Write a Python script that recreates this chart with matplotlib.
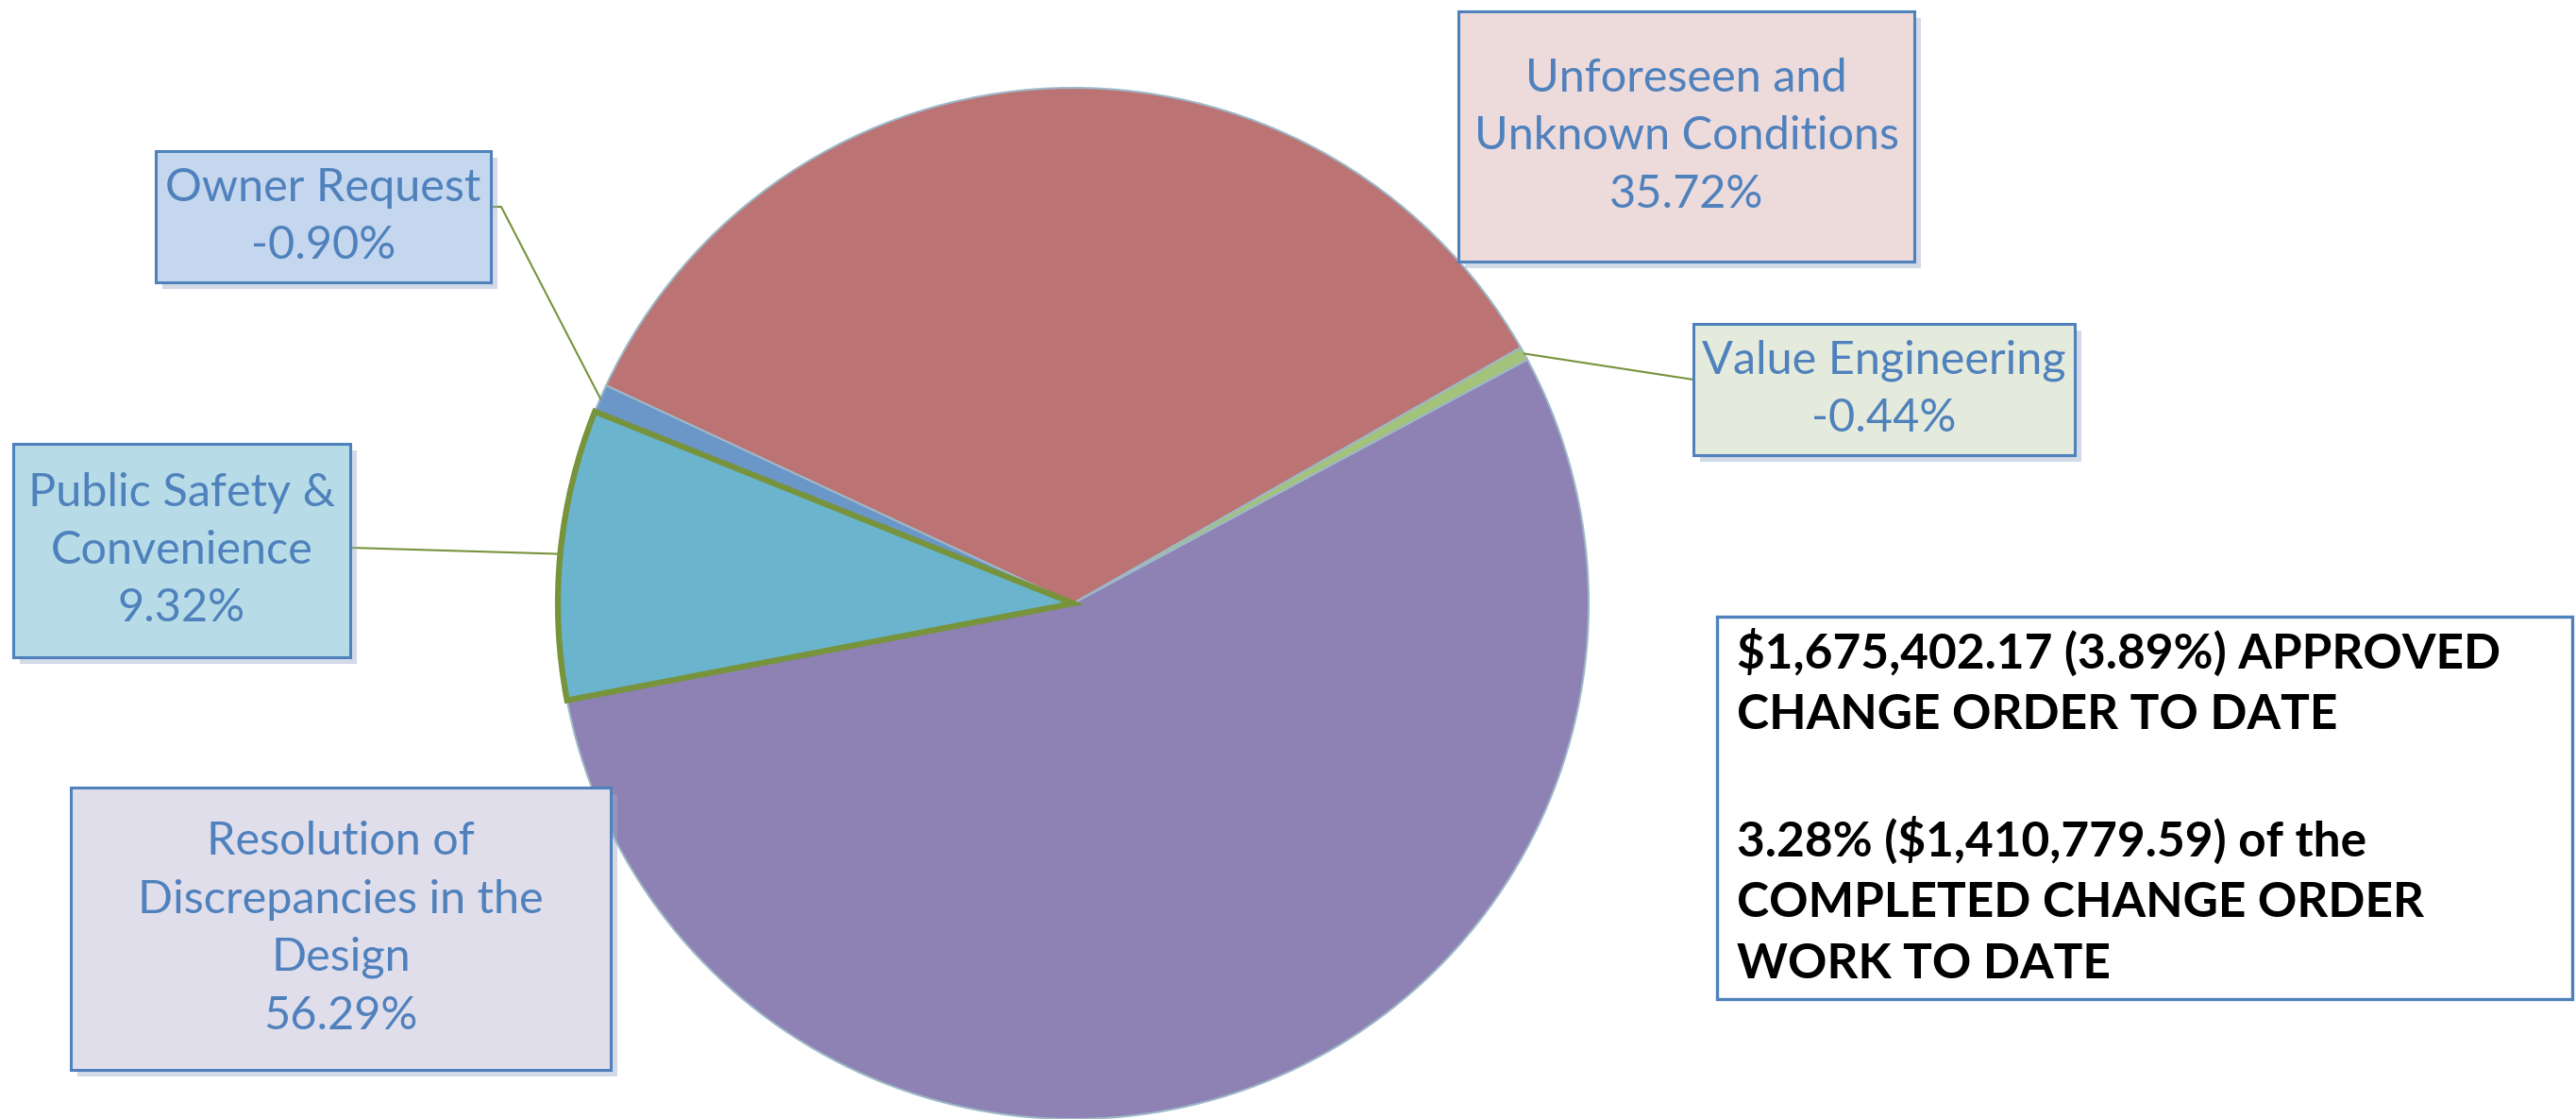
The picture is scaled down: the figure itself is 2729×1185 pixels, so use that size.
import numpy as np
import matplotlib
matplotlib.use("Agg")
import matplotlib.pyplot as plt
from matplotlib.patches import Rectangle
import matplotlib.patheffects as pe

# data
categorias = ["Unforeseen and\nUnknown Conditions", "Value Engineering",
              "Resolution of\nDiscrepancies in the\nDesign", "Public Safety &\nConvenience",
              "Owner Request"]
percentuais = [35.72, -0.44, 56.29, 9.32, -0.90]
cores = ["#BB7373", "#A3C27A", "#8E81B3", "#6AB4CE", "#6B96C8"]
cores_caixa = ["#EDDADB", "#E5EBDC", "#E1DEEB", "#B7DCE7", "#C5D7EE"]
nota = ("$1,675,402.17 (3.89%) APPROVED\nCHANGE ORDER TO DATE\n\n"
        "3.28% ($1,410,779.59) of the\nCOMPLETED CHANGE ORDER\nWORK TO DATE")

W, H = 2729, 1185
azul = "#4F81BD"
verde = "#77933C"

fig = plt.figure(figsize=(W / 100, H / 100), dpi=100)
ax = fig.add_axes([0, 0, 1, 1])

cx, cy, r = 1137, H - 639, 546
valores = [abs(p) for p in percentuais]
wedges, _ = ax.pie(valores, colors=cores, startangle=155, counterclock=False,
                   center=(cx, cy), radius=r,
                   wedgeprops=dict(edgecolor="#9DB8C8", linewidth=1.5))
wedges[3].set_edgecolor(verde)
wedges[3].set_linewidth(4.5)
wedges[3].set_zorder(3)

ax.set_xlim(0, W)
ax.set_ylim(0, H)
ax.set_aspect("equal")
ax.axis("off")

# caixas (x0, y0, x1, y1) em pixels da imagem
caixas = [(1545, 12, 2028, 277), (1794, 343, 2198, 482), (75, 834, 647, 1133),
          (14, 470, 371, 696), (165, 160, 520, 299)]
# inicio da linha guia (ou None)
guias = [None, [(1794, 402)], None, [(371, 580)], [(520, 219), (531, 219)]]

sombra = [pe.SimplePatchShadow(offset=(5, -5), shadow_rgbFace="#9AAFC9", alpha=0.45), pe.Normal()]

for i, (x0, y0, x1, y1) in enumerate(caixas):
    rect = Rectangle((x0, H - y1), x1 - x0, y1 - y0, facecolor=cores_caixa[i],
                     edgecolor=azul, linewidth=2.2, zorder=5)
    rect.set_path_effects(sombra)
    ax.add_patch(rect)
    txt = categorias[i] + "\n" + f"{percentuais[i]:.2f}%"
    ax.text((x0 + x1) / 2, H - (y0 + y1) / 2, txt, ha="center", va="center",
            fontsize=35, color=azul, family="Lato", linespacing=1.48, zorder=6)

    if guias[i] is not None:
        # ponto medio da fatia
        ang = np.deg2rad((wedges[i].theta1 + wedges[i].theta2) / 2)
        ex, ey = cx + r * np.cos(ang), cy + r * np.sin(ang)
        xs = [p[0] for p in guias[i]] + [ex]
        ys = [H - p[1] for p in guias[i]] + [ey]
        ax.plot(xs, ys, color=verde, linewidth=1.5, zorder=4)

# caixa de nota
ax.add_patch(Rectangle((1819, H - 1058), 2725 - 1819, 1058 - 653, facecolor="white",
                       edgecolor=azul, linewidth=2.4, zorder=5))
ax.text(1840, H - 855, nota, ha="left", va="center", fontsize=37, fontweight="bold",
        family="Lato", color="black", linespacing=1.46, zorder=6)

fig.savefig("out.png", dpi=100)
